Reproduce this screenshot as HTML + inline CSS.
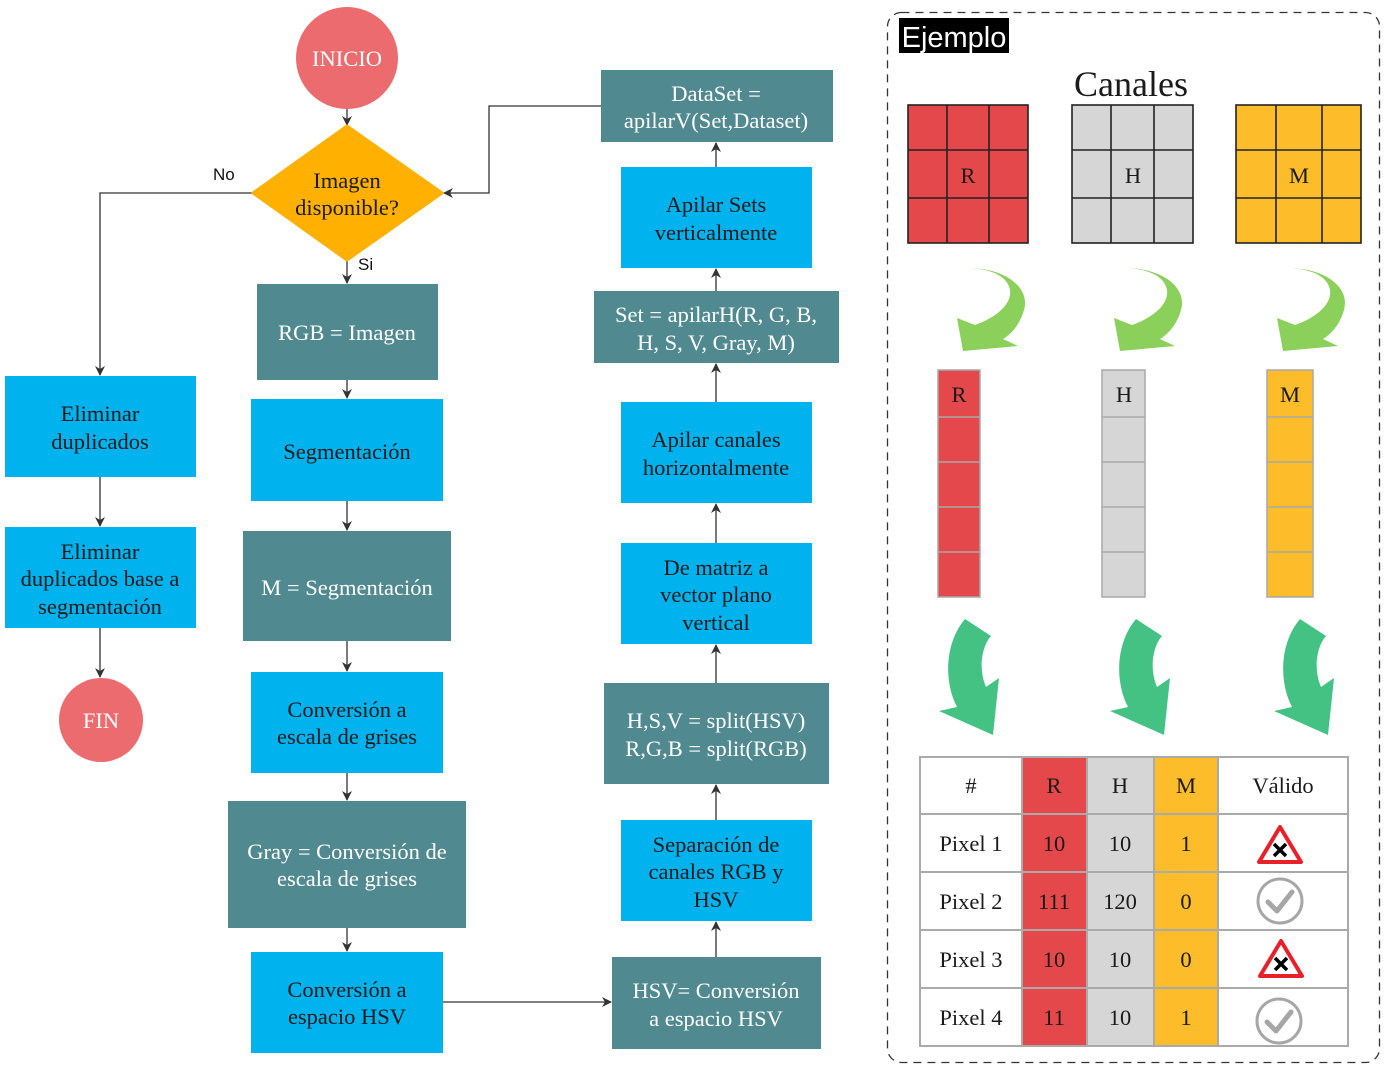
<!DOCTYPE html>
<html><head><meta charset="utf-8"><style>
html,body{margin:0;padding:0;background:#fff;}
svg{display:block;}
.t{font-family:"Liberation Serif",serif;font-size:22.5px;text-anchor:middle;}
.w{fill:#fff;}
.d{fill:#1a1a1a;}
.s{font-family:"Liberation Sans",sans-serif;font-size:17px;fill:#111;}
.ln{stroke:#333;stroke-width:1.3;fill:none;}
</style></head><body>
<svg width="1388" height="1067" viewBox="0 0 1388 1067" xmlns="http://www.w3.org/2000/svg">
<defs>
<marker id="a" markerWidth="10" markerHeight="10" refX="9" refY="5" orient="auto" markerUnits="userSpaceOnUse">
<path d="M0,0 L10,5 L0,10 L3,5 Z" fill="#333"/></marker>
</defs>

<g class="ln">
<path d="M347,109 V125" marker-end="url(#a)"/>
<path d="M347,261 V283" marker-end="url(#a)"/>
<path d="M253,193 H100 V375" marker-end="url(#a)"/>
<path d="M601,106 H489 V193 H444" marker-end="url(#a)"/>
<path d="M347,380 V398" marker-end="url(#a)"/>
<path d="M347,501 V530" marker-end="url(#a)"/>
<path d="M347,641 V671" marker-end="url(#a)"/>
<path d="M347,773 V800" marker-end="url(#a)"/>
<path d="M347,928 V951" marker-end="url(#a)"/>
<path d="M443,1002 H611" marker-end="url(#a)"/>
<path d="M716,957 V922" marker-end="url(#a)"/>
<path d="M716,820 V785" marker-end="url(#a)"/>
<path d="M716,683 V645" marker-end="url(#a)"/>
<path d="M716,543 V504" marker-end="url(#a)"/>
<path d="M716,402 V364" marker-end="url(#a)"/>
<path d="M716,291 V269" marker-end="url(#a)"/>
<path d="M716,167 V143" marker-end="url(#a)"/>
<path d="M100,477 V526" marker-end="url(#a)"/>
<path d="M100,628 V677" marker-end="url(#a)"/>
</g>
<text class="s" x="213" y="180">No</text>
<text class="s" x="358" y="270">Si</text>

<circle cx="347" cy="58" r="51" fill="#ec6b6f"/>
<text class="t w" x="347" y="66">INICIO</text>
<circle cx="101" cy="720" r="42" fill="#ec6b6f"/>
<text class="t w" x="101" y="728">FIN</text>

<path d="M347,126 L442,193 L347,260 L253,193 Z" fill="#ffb000" stroke="#ffb000" stroke-width="3" stroke-linejoin="round"/>
<text class="t d" x="347" y="188">Imagen</text>
<text class="t d" x="347" y="215">disponible?</text>

<rect x="5" y="376" width="191" height="101" fill="#00b2ee"/>
<text class="t d" x="100" y="421">Eliminar</text><text class="t d" x="100" y="449">duplicados</text>
<rect x="5" y="527" width="191" height="101" fill="#00b2ee"/>
<text class="t d" x="100" y="559">Eliminar</text><text class="t d" x="100" y="586">duplicados base a</text><text class="t d" x="100" y="614">segmentación</text>

<rect x="257" y="284" width="181" height="96" fill="#508a90"/>
<text class="t w" x="347" y="340">RGB = Imagen</text>
<rect x="251" y="399" width="192" height="102" fill="#00b2ee"/>
<text class="t d" x="347" y="459">Segmentación</text>
<rect x="243" y="531" width="208" height="110" fill="#508a90"/>
<text class="t w" x="347" y="595">M = Segmentación</text>
<rect x="251" y="672" width="192" height="101" fill="#00b2ee"/>
<text class="t d" x="347" y="717">Conversión a</text><text class="t d" x="347" y="744">escala de grises</text>
<rect x="228" y="801" width="238" height="127" fill="#508a90"/>
<text class="t w" x="347" y="859">Gray = Conversión de</text><text class="t w" x="347" y="886">escala de grises</text>
<rect x="251" y="952" width="192" height="101" fill="#00b2ee"/>
<text class="t d" x="347" y="997">Conversión a</text><text class="t d" x="347" y="1024">espacio HSV</text>

<rect x="612" y="957" width="209" height="92" fill="#508a90"/>
<text class="t w" x="716" y="998">HSV= Conversión</text><text class="t w" x="716" y="1026">a espacio HSV</text>
<rect x="621" y="820" width="191" height="101" fill="#00b2ee"/>
<text class="t d" x="716" y="852">Separación de</text><text class="t d" x="716" y="879">canales RGB y</text><text class="t d" x="716" y="907">HSV</text>
<rect x="604" y="683" width="225" height="101" fill="#508a90"/>
<text class="t w" x="716" y="728">H,S,V = split(HSV)</text><text class="t w" x="716" y="756">R,G,B = split(RGB)</text>
<rect x="621" y="543" width="191" height="101" fill="#00b2ee"/>
<text class="t d" x="716" y="575">De matriz a</text><text class="t d" x="716" y="602">vector plano</text><text class="t d" x="716" y="630">vertical</text>
<rect x="621" y="402" width="191" height="101" fill="#00b2ee"/>
<text class="t d" x="716" y="447">Apilar canales</text><text class="t d" x="716" y="475">horizontalmente</text>
<rect x="594" y="291" width="245" height="72" fill="#508a90"/>
<text class="t w" x="716" y="322">Set = apilarH(R, G, B,</text><text class="t w" x="716" y="350">H, S, V, Gray, M)</text>
<rect x="621" y="167" width="191" height="101" fill="#00b2ee"/>
<text class="t d" x="716" y="212">Apilar Sets</text><text class="t d" x="716" y="240">verticalmente</text>
<rect x="601" y="70" width="232" height="72" fill="#508a90"/>
<text class="t w" x="716" y="101">DataSet =</text><text class="t w" x="716" y="128">apilarV(Set,Dataset)</text>

<rect x="887.5" y="12.5" width="492" height="1050" rx="14" fill="none" stroke="#333" stroke-width="1.3" stroke-dasharray="8,6"/>
<rect x="899" y="18" width="110" height="35" fill="#000"/>
<text x="954" y="47" style="font-family:'Liberation Sans',sans-serif;font-size:29px;fill:#fff;text-anchor:middle">Ejemplo</text>
<text x="1131" y="96" style="font-family:'Liberation Serif',serif;font-size:36px;fill:#1a1a1a;text-anchor:middle">Canales</text>

<g stroke="#222" stroke-width="1.6">
<rect x="908" y="105" width="120" height="138" fill="#e5484a"/>
<path d="M947,105V243M989,105V243M908,150H1028M908,198H1028"/>
<rect x="1072" y="105" width="121" height="138" fill="#d6d6d6"/>
<path d="M1111,105V243M1154,105V243M1072,150H1193M1072,198H1193"/>
<rect x="1236" y="105" width="125" height="138" fill="#fdbd2a"/>
<path d="M1276,105V243M1322,105V243M1236,150H1361M1236,198H1361"/>
</g>
<text class="t d" x="968" y="183">R</text>
<text class="t d" x="1133" y="183">H</text>
<text class="t d" x="1299" y="183">M</text>

<g fill="#8bd05a">
<path d="M972,268 C1010,270 1030,290 1024,310 C1020,325 1010,335 1003,339 L1018,346 L963,351 L957,318 L975,325 C995,318 1012,305 1010,290 C1008,278 995,270 972,268 Z"/>
<path transform="translate(157,0)" d="M972,268 C1010,270 1030,290 1024,310 C1020,325 1010,335 1003,339 L1018,346 L963,351 L957,318 L975,325 C995,318 1012,305 1010,290 C1008,278 995,270 972,268 Z"/>
<path transform="translate(320,0)" d="M972,268 C1010,270 1030,290 1024,310 C1020,325 1010,335 1003,339 L1018,346 L963,351 L957,318 L975,325 C995,318 1012,305 1010,290 C1008,278 995,270 972,268 Z"/>
</g>

<g stroke="#a8a8a8" stroke-width="1.5">
<rect x="938" y="370" width="42" height="227" fill="#e5484a"/>
<path d="M938,417H980M938,462H980M938,507H980M938,552H980"/>
<rect x="1102" y="370" width="43" height="227" fill="#d6d6d6"/>
<path d="M1102,417H1145M1102,462H1145M1102,507H1145M1102,552H1145"/>
<rect x="1267" y="370" width="46" height="227" fill="#fdbd2a"/>
<path d="M1267,417H1313M1267,462H1313M1267,507H1313M1267,552H1313"/>
</g>
<text class="t d" x="959" y="402">R</text>
<text class="t d" x="1124" y="402">H</text>
<text class="t d" x="1290" y="402">M</text>

<g fill="#44c283">
<path d="M965,619 L991,636 C982,646 978,668 986,687 L999,678 L993,735 L939,711 L957,707 C945,685 943,645 965,619 Z"/>
<path transform="translate(171,0)" d="M965,619 L991,636 C982,646 978,668 986,687 L999,678 L993,735 L939,711 L957,707 C945,685 943,645 965,619 Z"/>
<path transform="translate(335,0)" d="M965,619 L991,636 C982,646 978,668 986,687 L999,678 L993,735 L939,711 L957,707 C945,685 943,645 965,619 Z"/>
</g>

<rect x="1022" y="757" width="65" height="289" fill="#e5484a"/>
<rect x="1087" y="757" width="67" height="289" fill="#d6d6d6"/>
<rect x="1154" y="757" width="64" height="289" fill="#fdbd2a"/>
<g stroke="#aaa" stroke-width="2" fill="none">
<rect x="920" y="757" width="428" height="289"/>
<path d="M1022,757V1046M1087,757V1046M1154,757V1046M1218,757V1046"/>
<path d="M920,814H1348M920,872H1348M920,930H1348M920,988H1348"/>
</g>
<g class="t d">
<text x="971" y="793">#</text><text x="1054" y="793">R</text><text x="1120" y="793">H</text><text x="1186" y="793">M</text><text x="1283" y="793">Válido</text>
<text x="971" y="851">Pixel 1</text><text x="1054" y="851">10</text><text x="1120" y="851">10</text><text x="1186" y="851">1</text>
<text x="971" y="909">Pixel 2</text><text x="1054" y="909">111</text><text x="1120" y="909">120</text><text x="1186" y="909">0</text>
<text x="971" y="967">Pixel 3</text><text x="1054" y="967">10</text><text x="1120" y="967">10</text><text x="1186" y="967">0</text>
<text x="971" y="1025">Pixel 4</text><text x="1054" y="1025">11</text><text x="1120" y="1025">10</text><text x="1186" y="1025">1</text>
</g>
<g>
<path d="M1280,827 L1301,862 L1259,862 Z" fill="#fff" stroke="#e8202a" stroke-width="4" stroke-linejoin="round"/>
<path d="M1274,844 L1286,856 M1286,844 L1274,856" stroke="#000" stroke-width="3.5"/>
<path d="M1281,941 L1302,976 L1260,976 Z" fill="#fff" stroke="#e8202a" stroke-width="4" stroke-linejoin="round"/>
<path d="M1275,958 L1287,970 M1287,958 L1275,970" stroke="#000" stroke-width="3.5"/>
<circle cx="1280" cy="901" r="22" fill="none" stroke="#a6a6a6" stroke-width="3"/>
<path d="M1268,902 L1277,911 L1292,892" fill="none" stroke="#a6a6a6" stroke-width="5" stroke-linecap="round" stroke-linejoin="round"/>
<circle cx="1279" cy="1021" r="22" fill="none" stroke="#a6a6a6" stroke-width="3"/>
<path d="M1267,1022 L1276,1031 L1291,1012" fill="none" stroke="#a6a6a6" stroke-width="5" stroke-linecap="round" stroke-linejoin="round"/>
</g>
</svg>
</body></html>
